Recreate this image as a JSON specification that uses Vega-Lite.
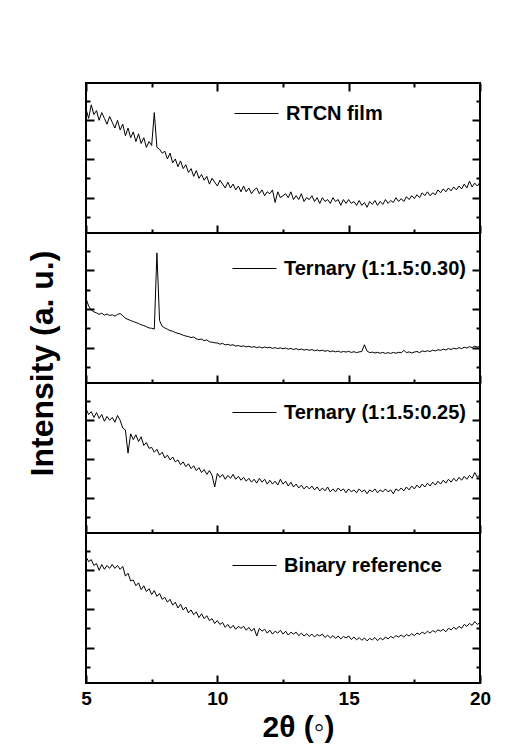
{
"$schema": "https://vega.github.io/schema/vega-lite/v6.json",
"padding": {"left": 24, "top": 81, "right": 5, "bottom": 5},
"background": "white",
"config": {"view": {"stroke": "black", "strokeWidth": 2}, "font": "Liberation Sans", "legend": {"labelLimit": 400}},
"data": {"values": [
{"x":5.0,"a":6.6,"b":4.55,"c":6.6,"d":6.7},
{"x":5.1,"a":6.1,"b":4.15,"c":6.3,"d":6.45},
{"x":5.2,"a":6.8,"b":3.95,"c":6.45,"d":6.55},
{"x":5.3,"a":6.3,"b":3.85,"c":6.15,"d":6.25},
{"x":5.4,"a":6.5,"b":3.8,"c":6.4,"d":6.35},
{"x":5.5,"a":6.0,"b":3.72,"c":6.1,"d":6.0},
{"x":5.6,"a":6.4,"b":3.78,"c":6.3,"d":6.3},
{"x":5.7,"a":6.1,"b":3.68,"c":5.95,"d":6.05},
{"x":5.8,"a":5.8,"b":3.74,"c":6.2,"d":6.25},
{"x":5.9,"a":6.2,"b":3.66,"c":6.0,"d":6.1},
{"x":6.0,"a":5.9,"b":3.7,"c":6.15,"d":6.3},
{"x":6.1,"a":5.6,"b":3.63,"c":5.9,"d":6.1},
{"x":6.2,"a":6.0,"b":3.72,"c":6.25,"d":6.25},
{"x":6.3,"a":5.5,"b":3.76,"c":6.0,"d":6.05},
{"x":6.4,"a":5.8,"b":3.65,"c":5.6,"d":6.2},
{"x":6.5,"a":5.2,"b":3.52,"c":5.5,"d":5.7},
{"x":6.6,"a":5.6,"b":3.46,"c":4.3,"d":5.85},
{"x":6.7,"a":5.1,"b":3.4,"c":5.3,"d":5.45},
{"x":6.8,"a":5.4,"b":3.35,"c":5.0,"d":5.5},
{"x":6.9,"a":4.9,"b":3.3,"c":5.25,"d":5.2},
{"x":7.0,"a":5.3,"b":3.25,"c":4.9,"d":5.35},
{"x":7.1,"a":4.8,"b":3.18,"c":5.15,"d":5.0},
{"x":7.2,"a":5.1,"b":3.14,"c":4.7,"d":5.2},
{"x":7.3,"a":4.6,"b":3.08,"c":4.85,"d":4.9},
{"x":7.4,"a":4.9,"b":3.02,"c":4.55,"d":5.05},
{"x":7.5,"a":4.7,"b":3.0,"c":4.6,"d":4.75},
{"x":7.6,"a":6.4,"b":2.96,"c":4.35,"d":4.95},
{"x":7.7,"a":4.6,"b":6.9,"c":4.5,"d":4.65},
{"x":7.8,"a":4.5,"b":3.4,"c":4.2,"d":4.8},
{"x":7.9,"a":4.3,"b":3.1,"c":4.35,"d":4.5},
{"x":8.0,"a":4.4,"b":3.02,"c":4.05,"d":4.6},
{"x":8.1,"a":4.0,"b":2.95,"c":4.2,"d":4.35},
{"x":8.2,"a":4.3,"b":2.88,"c":3.95,"d":4.5},
{"x":8.3,"a":3.8,"b":2.85,"c":4.1,"d":4.2},
{"x":8.4,"a":4.0,"b":2.78,"c":3.85,"d":4.35},
{"x":8.5,"a":3.6,"b":2.74,"c":3.95,"d":4.05},
{"x":8.6,"a":3.9,"b":2.7,"c":3.7,"d":4.25},
{"x":8.7,"a":3.5,"b":2.64,"c":3.85,"d":3.95},
{"x":8.8,"a":3.7,"b":2.6,"c":3.6,"d":4.1},
{"x":8.9,"a":3.3,"b":2.57,"c":3.75,"d":3.8},
{"x":9.0,"a":3.5,"b":2.52,"c":3.5,"d":3.95},
{"x":9.1,"a":3.1,"b":2.55,"c":3.65,"d":3.7},
{"x":9.2,"a":3.4,"b":2.46,"c":3.4,"d":3.85},
{"x":9.3,"a":3.0,"b":2.42,"c":3.55,"d":3.55},
{"x":9.4,"a":3.2,"b":2.44,"c":3.3,"d":3.75},
{"x":9.5,"a":2.9,"b":2.36,"c":3.45,"d":3.5},
{"x":9.6,"a":3.1,"b":2.4,"c":3.2,"d":3.65},
{"x":9.7,"a":2.7,"b":2.3,"c":3.4,"d":3.4},
{"x":9.8,"a":3.0,"b":2.28,"c":3.15,"d":3.5},
{"x":9.9,"a":2.8,"b":2.25,"c":2.55,"d":3.25},
{"x":10.0,"a":2.6,"b":2.24,"c":3.25,"d":3.4},
{"x":10.1,"a":2.9,"b":2.18,"c":3.05,"d":3.2},
{"x":10.2,"a":2.7,"b":2.22,"c":3.2,"d":3.3},
{"x":10.3,"a":2.5,"b":2.14,"c":2.95,"d":3.05},
{"x":10.4,"a":2.8,"b":2.17,"c":3.15,"d":3.2},
{"x":10.5,"a":2.5,"b":2.12,"c":3.0,"d":3.0},
{"x":10.6,"a":2.7,"b":2.15,"c":3.2,"d":3.15},
{"x":10.7,"a":2.4,"b":2.08,"c":2.95,"d":2.95},
{"x":10.8,"a":2.6,"b":2.11,"c":3.1,"d":3.1},
{"x":10.9,"a":2.3,"b":2.06,"c":2.9,"d":3.0},
{"x":11.0,"a":2.6,"b":2.09,"c":3.05,"d":3.1},
{"x":11.1,"a":2.3,"b":2.04,"c":2.85,"d":2.9},
{"x":11.2,"a":2.5,"b":2.07,"c":3.0,"d":3.05},
{"x":11.3,"a":2.2,"b":2.02,"c":2.8,"d":2.85},
{"x":11.4,"a":2.4,"b":2.05,"c":2.95,"d":3.0},
{"x":11.5,"a":2.5,"b":2.0,"c":2.75,"d":2.6},
{"x":11.6,"a":2.2,"b":2.04,"c":3.0,"d":3.0},
{"x":11.7,"a":2.4,"b":1.98,"c":2.8,"d":2.85},
{"x":11.8,"a":2.1,"b":2.03,"c":2.95,"d":2.95},
{"x":11.9,"a":2.3,"b":1.99,"c":2.7,"d":2.75},
{"x":12.0,"a":2.2,"b":2.02,"c":2.9,"d":2.9},
{"x":12.1,"a":2.4,"b":1.96,"c":2.7,"d":2.7},
{"x":12.2,"a":1.75,"b":2.0,"c":2.85,"d":2.85},
{"x":12.3,"a":2.3,"b":1.95,"c":2.65,"d":2.75},
{"x":12.4,"a":2.0,"b":1.99,"c":2.95,"d":2.9},
{"x":12.5,"a":2.1,"b":1.94,"c":2.7,"d":2.7},
{"x":12.6,"a":2.2,"b":1.98,"c":2.85,"d":2.85},
{"x":12.7,"a":2.0,"b":1.92,"c":2.6,"d":2.65},
{"x":12.8,"a":2.3,"b":1.96,"c":2.8,"d":2.8},
{"x":12.9,"a":1.9,"b":1.9,"c":2.55,"d":2.7},
{"x":13.0,"a":2.1,"b":1.95,"c":2.7,"d":2.8},
{"x":13.1,"a":1.9,"b":1.89,"c":2.5,"d":2.62},
{"x":13.2,"a":2.2,"b":1.93,"c":2.65,"d":2.75},
{"x":13.3,"a":1.8,"b":1.87,"c":2.45,"d":2.6},
{"x":13.4,"a":2.0,"b":1.91,"c":2.6,"d":2.72},
{"x":13.5,"a":1.9,"b":1.86,"c":2.45,"d":2.58},
{"x":13.6,"a":2.1,"b":1.9,"c":2.6,"d":2.7},
{"x":13.7,"a":1.8,"b":1.84,"c":2.4,"d":2.55},
{"x":13.8,"a":2.0,"b":1.88,"c":2.55,"d":2.68},
{"x":13.9,"a":1.7,"b":1.83,"c":2.35,"d":2.6},
{"x":14.0,"a":2.0,"b":1.87,"c":2.5,"d":2.7},
{"x":14.1,"a":1.8,"b":1.81,"c":2.35,"d":2.52},
{"x":14.2,"a":1.9,"b":1.85,"c":2.55,"d":2.65},
{"x":14.3,"a":1.7,"b":1.79,"c":2.3,"d":2.5},
{"x":14.4,"a":2.0,"b":1.83,"c":2.45,"d":2.62},
{"x":14.5,"a":1.8,"b":1.78,"c":2.3,"d":2.48},
{"x":14.6,"a":1.9,"b":1.82,"c":2.5,"d":2.6},
{"x":14.7,"a":1.6,"b":1.76,"c":2.35,"d":2.45},
{"x":14.8,"a":1.9,"b":1.8,"c":2.45,"d":2.58},
{"x":14.9,"a":1.7,"b":1.77,"c":2.25,"d":2.5},
{"x":15.0,"a":1.9,"b":1.81,"c":2.45,"d":2.6},
{"x":15.1,"a":1.7,"b":1.75,"c":2.3,"d":2.42},
{"x":15.2,"a":1.8,"b":1.79,"c":2.4,"d":2.55},
{"x":15.3,"a":1.6,"b":1.74,"c":2.25,"d":2.4},
{"x":15.4,"a":1.85,"b":1.78,"c":2.45,"d":2.52},
{"x":15.5,"a":1.6,"b":1.8,"c":2.3,"d":2.38},
{"x":15.6,"a":1.75,"b":2.15,"c":2.4,"d":2.5},
{"x":15.7,"a":1.5,"b":1.82,"c":2.2,"d":2.35},
{"x":15.8,"a":1.8,"b":1.74,"c":2.4,"d":2.48},
{"x":15.9,"a":1.65,"b":1.77,"c":2.3,"d":2.4},
{"x":16.0,"a":1.85,"b":1.72,"c":2.45,"d":2.52},
{"x":16.1,"a":1.6,"b":1.76,"c":2.25,"d":2.36},
{"x":16.2,"a":1.8,"b":1.71,"c":2.4,"d":2.5},
{"x":16.3,"a":1.65,"b":1.75,"c":2.3,"d":2.4},
{"x":16.4,"a":1.9,"b":1.7,"c":2.45,"d":2.55},
{"x":16.5,"a":1.7,"b":1.74,"c":2.3,"d":2.45},
{"x":16.6,"a":1.85,"b":1.7,"c":2.4,"d":2.58},
{"x":16.7,"a":1.75,"b":1.75,"c":2.2,"d":2.5},
{"x":16.8,"a":2.0,"b":1.71,"c":2.45,"d":2.62},
{"x":16.9,"a":1.8,"b":1.76,"c":2.35,"d":2.55},
{"x":17.0,"a":1.95,"b":1.73,"c":2.5,"d":2.65},
{"x":17.1,"a":1.8,"b":1.86,"c":2.35,"d":2.55},
{"x":17.2,"a":2.05,"b":1.74,"c":2.55,"d":2.68},
{"x":17.3,"a":1.9,"b":1.78,"c":2.4,"d":2.6},
{"x":17.4,"a":2.1,"b":1.72,"c":2.6,"d":2.72},
{"x":17.5,"a":1.95,"b":1.77,"c":2.45,"d":2.62},
{"x":17.6,"a":2.15,"b":1.8,"c":2.65,"d":2.75},
{"x":17.7,"a":2.0,"b":1.74,"c":2.5,"d":2.68},
{"x":17.8,"a":2.25,"b":1.83,"c":2.7,"d":2.8},
{"x":17.9,"a":2.1,"b":1.79,"c":2.55,"d":2.72},
{"x":18.0,"a":2.3,"b":1.84,"c":2.75,"d":2.85},
{"x":18.1,"a":2.1,"b":1.8,"c":2.6,"d":2.75},
{"x":18.2,"a":2.25,"b":1.87,"c":2.8,"d":2.88},
{"x":18.3,"a":2.15,"b":1.83,"c":2.65,"d":2.8},
{"x":18.4,"a":2.4,"b":1.89,"c":2.85,"d":2.92},
{"x":18.5,"a":2.25,"b":1.86,"c":2.7,"d":2.85},
{"x":18.6,"a":2.45,"b":1.92,"c":2.9,"d":2.95},
{"x":18.7,"a":2.3,"b":1.88,"c":2.75,"d":2.82},
{"x":18.8,"a":2.5,"b":1.95,"c":2.95,"d":3.0},
{"x":18.9,"a":2.35,"b":1.9,"c":2.8,"d":2.92},
{"x":19.0,"a":2.55,"b":1.97,"c":3.0,"d":3.05},
{"x":19.1,"a":2.4,"b":1.93,"c":2.85,"d":2.95},
{"x":19.2,"a":2.6,"b":2.0,"c":3.05,"d":3.1},
{"x":19.3,"a":2.45,"b":1.95,"c":2.9,"d":3.0},
{"x":19.4,"a":2.7,"b":2.02,"c":3.1,"d":3.2},
{"x":19.5,"a":2.5,"b":1.98,"c":2.95,"d":3.1},
{"x":19.6,"a":2.85,"b":2.05,"c":3.15,"d":3.25},
{"x":19.7,"a":2.55,"b":2.0,"c":3.0,"d":3.15},
{"x":19.8,"a":2.75,"b":2.07,"c":3.3,"d":3.35},
{"x":19.9,"a":2.6,"b":2.03,"c":3.05,"d":3.2},
{"x":20.0,"a":2.8,"b":2.08,"c":3.2,"d":3.3}
]},
"spacing": 0,
"bounds": "flush",
"resolve": {"scale": {"color": "independent"}, "legend": {"color": "independent"}},
"vconcat": [
{
 "width": 394, "height": 150,
 "layer": [
  {"mark": {"type": "line", "strokeWidth": 1},
   "encoding": {
    "x": {"field": "x", "type": "quantitative", "scale": {"domain": [5, 20], "nice": false, "zero": false},
     "axis": {"orient": "bottom", "values": [5, 7.5, 10, 12.5, 15, 17.5, 20], "labels": false, "title": null, "domain": false, "grid": false, "tickColor": "black", "tickWidth": 2, "tickSize": {"condition": {"test": "datum.value % 5 === 0", "value": -8}, "value": -4}}},
    "y": {"field": "a", "type": "quantitative", "scale": {"domain": [0.17, 7.93], "nice": false, "zero": false},
     "axis": {"orient": "left", "values": [1, 2, 3, 4, 5, 6, 7], "labels": false, "title": null, "domain": false, "grid": false, "tickColor": "black", "tickWidth": 2, "tickSize": {"condition": {"test": "datum.value % 2 === 0", "value": -8}, "value": -4}}},
    "color": {"datum": "RTCN film", "type": "nominal", "scale": {"range": ["black"]},
     "legend": {"orient": "none", "legendX": 148, "legendY": 8, "title": null, "symbolType": "stroke", "symbolSize": 1936, "symbolStrokeWidth": 1, "labelFontSize": 20, "labelFont": "Liberation Sans", "labelFontWeight": "bold", "labelColor": "black", "labelOffset": 7, "labelLimit": 400, "padding": 0}}
   }},
  {"mark": {"type": "line", "opacity": 0},
   "encoding": {
    "x": {"field": "x", "type": "quantitative",
     "axis": {"orient": "top", "values": [5, 7.5, 10, 12.5, 15, 17.5, 20], "labels": false, "title": null, "domain": false, "grid": false, "tickColor": "black", "tickWidth": 2, "tickSize": {"condition": {"test": "datum.value % 5 === 0", "value": -8}, "value": -4}}},
    "y": {"field": "a", "type": "quantitative",
     "axis": {"orient": "right", "values": [1, 2, 3, 4, 5, 6, 7], "labels": false, "title": null, "domain": false, "grid": false, "tickColor": "black", "tickWidth": 2, "tickSize": {"condition": {"test": "datum.value % 2 === 0", "value": -8}, "value": -4}}}
   }}
 ],
 "resolve": {"axis": {"x": "independent", "y": "independent"}}
},
{
 "width": 394, "height": 150,
 "layer": [
  {"mark": {"type": "line", "strokeWidth": 1},
   "encoding": {
    "x": {"field": "x", "type": "quantitative", "scale": {"domain": [5, 20], "nice": false, "zero": false},
     "axis": {"orient": "bottom", "values": [5, 7.5, 10, 12.5, 15, 17.5, 20], "labels": false, "title": null, "domain": false, "grid": false, "tickColor": "black", "tickWidth": 2, "tickSize": {"condition": {"test": "datum.value % 5 === 0", "value": -8}, "value": -4}}},
    "y": {"field": "b", "type": "quantitative", "scale": {"domain": [0.17, 7.93], "nice": false, "zero": false},
     "axis": {"orient": "left", "values": [1, 2, 3, 4, 5, 6, 7], "labels": false, "title": "Intensity (a. u.)", "titleFont": "Liberation Sans", "titleFontSize": 32, "titleFontWeight": "bold", "titleColor": "black", "titleAngle": 270, "titleAlign": "center", "titleBaseline": "alphabetic", "titleX": -34, "titleY": 130, "domain": false, "grid": false, "tickColor": "black", "tickWidth": 2, "tickSize": {"condition": {"test": "datum.value % 2 === 0", "value": -8}, "value": -4}}},
    "color": {"datum": "Ternary (1:1.5:0.30)", "type": "nominal", "scale": {"range": ["black"]},
     "legend": {"orient": "none", "legendX": 146, "legendY": 13, "title": null, "symbolType": "stroke", "symbolSize": 1936, "symbolStrokeWidth": 1, "labelFontSize": 20, "labelFont": "Liberation Sans", "labelFontWeight": "bold", "labelColor": "black", "labelOffset": 7, "labelLimit": 400, "padding": 0}}
   }},
  {"mark": {"type": "line", "opacity": 0},
   "encoding": {
    "x": {"field": "x", "type": "quantitative", "axis": null},
    "y": {"field": "b", "type": "quantitative",
     "axis": {"orient": "right", "values": [1, 2, 3, 4, 5, 6, 7], "labels": false, "title": null, "domain": false, "grid": false, "tickColor": "black", "tickWidth": 2, "tickSize": {"condition": {"test": "datum.value % 2 === 0", "value": -8}, "value": -4}}}
   }}
 ],
 "resolve": {"axis": {"x": "independent", "y": "independent"}}
},
{
 "width": 394, "height": 150,
 "layer": [
  {"mark": {"type": "line", "strokeWidth": 1},
   "encoding": {
    "x": {"field": "x", "type": "quantitative", "scale": {"domain": [5, 20], "nice": false, "zero": false},
     "axis": {"orient": "bottom", "values": [5, 7.5, 10, 12.5, 15, 17.5, 20], "labels": false, "title": null, "domain": false, "grid": false, "tickColor": "black", "tickWidth": 2, "tickSize": {"condition": {"test": "datum.value % 5 === 0", "value": -8}, "value": -4}}},
    "y": {"field": "c", "type": "quantitative", "scale": {"domain": [0.17, 7.93], "nice": false, "zero": false},
     "axis": {"orient": "left", "values": [1, 2, 3, 4, 5, 6, 7], "labels": false, "title": null, "domain": false, "grid": false, "tickColor": "black", "tickWidth": 2, "tickSize": {"condition": {"test": "datum.value % 2 === 0", "value": -8}, "value": -4}}},
    "color": {"datum": "Ternary (1:1.5:0.25)", "type": "nominal", "scale": {"range": ["black"]},
     "legend": {"orient": "none", "legendX": 146, "legendY": 7, "title": null, "symbolType": "stroke", "symbolSize": 1936, "symbolStrokeWidth": 1, "labelFontSize": 20, "labelFont": "Liberation Sans", "labelFontWeight": "bold", "labelColor": "black", "labelOffset": 7, "labelLimit": 400, "padding": 0}}
   }},
  {"mark": {"type": "line", "opacity": 0},
   "encoding": {
    "x": {"field": "x", "type": "quantitative", "axis": null},
    "y": {"field": "c", "type": "quantitative",
     "axis": {"orient": "right", "values": [1, 2, 3, 4, 5, 6, 7], "labels": false, "title": null, "domain": false, "grid": false, "tickColor": "black", "tickWidth": 2, "tickSize": {"condition": {"test": "datum.value % 2 === 0", "value": -8}, "value": -4}}}
   }}
 ],
 "resolve": {"axis": {"x": "independent", "y": "independent"}}
},
{
 "width": 394, "height": 150,
 "layer": [
  {"mark": {"type": "line", "strokeWidth": 1},
   "encoding": {
    "x": {"field": "x", "type": "quantitative", "scale": {"domain": [5, 20], "nice": false, "zero": false},
     "axis": {"orient": "bottom", "values": [5, 7.5, 10, 12.5, 15, 17.5, 20], "labelExpr": "datum.value % 5 === 0 ? datum.label : ''", "labelFont": "Liberation Sans", "labelFontSize": 19, "labelFontWeight": "bold", "labelColor": "black", "labelPadding": 14, "labelFlush": false, "title": "2θ (◦)", "titleFont": "Liberation Sans", "titleFontSize": 30, "titleFontWeight": "bold", "titleColor": "black", "titlePadding": 4, "titleX": 212, "domain": false, "grid": false, "tickColor": "black", "tickWidth": 2, "tickSize": {"condition": {"test": "datum.value % 5 === 0", "value": -8}, "value": -4}}},
    "y": {"field": "d", "type": "quantitative", "scale": {"domain": [0.17, 7.93], "nice": false, "zero": false},
     "axis": {"orient": "left", "values": [1, 2, 3, 4, 5, 6, 7], "labels": false, "title": null, "domain": false, "grid": false, "tickColor": "black", "tickWidth": 2, "tickSize": {"condition": {"test": "datum.value % 2 === 0", "value": -8}, "value": -4}}},
    "color": {"datum": "Binary reference", "type": "nominal", "scale": {"range": ["black"]},
     "legend": {"orient": "none", "legendX": 146, "legendY": 10, "title": null, "symbolType": "stroke", "symbolSize": 1936, "symbolStrokeWidth": 1, "labelFontSize": 20, "labelFont": "Liberation Sans", "labelFontWeight": "bold", "labelColor": "black", "labelOffset": 7, "labelLimit": 400, "padding": 0}}
   }},
  {"mark": {"type": "line", "opacity": 0},
   "encoding": {
    "x": {"field": "x", "type": "quantitative", "axis": null},
    "y": {"field": "d", "type": "quantitative",
     "axis": {"orient": "right", "values": [1, 2, 3, 4, 5, 6, 7], "labels": false, "title": null, "domain": false, "grid": false, "tickColor": "black", "tickWidth": 2, "tickSize": {"condition": {"test": "datum.value % 2 === 0", "value": -8}, "value": -4}}}
   }}
 ],
 "resolve": {"axis": {"x": "independent", "y": "independent"}}
}
]
}
